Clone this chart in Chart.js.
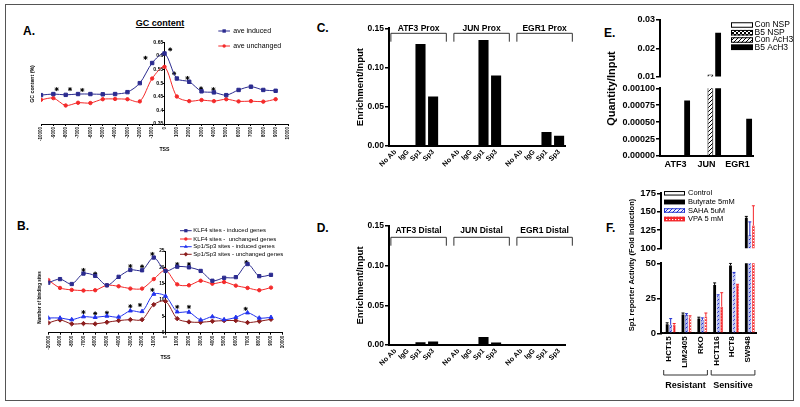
<!DOCTYPE html>
<html>
<head>
<meta charset="utf-8">
<script src="https://cdn.jsdelivr.net/npm/chart.js@4.4.1/dist/chart.umd.min.js"></script>
<style>
body { margin: 0; background: #fff; }
#wrap { position: relative; width: 800px; height: 407px; overflow: hidden; font-family: "Liberation Sans", Arial, sans-serif; }
canvas { position: absolute; }
.frame { position: absolute; left: 5px; top: 4px; width: 787px; height: 395px; border: 1.5px solid #555; pointer-events: none; }
.lbl { position: absolute; font-weight: bold; line-height: 1; white-space: nowrap; color: #000; }
</style>
</head>
<body>
<div id="wrap">
  <div class="lbl" style="left:23px;top:24.8px;font-size:12px">A.</div>
  <div class="lbl" style="left:17px;top:219.8px;font-size:12px">B.</div>
  <div class="lbl" style="left:316.7px;top:21.5px;font-size:12px">C.</div>
  <div class="lbl" style="left:316.7px;top:221.5px;font-size:12px">D.</div>
  <div class="lbl" style="left:604px;top:26.5px;font-size:12px">E.</div>
  <div class="lbl" style="left:606px;top:222.1px;font-size:12px">F.</div>
  <div class="lbl" style="left:160px;top:19.4px;font-size:9px;transform:translateX(-50%);text-decoration:underline">GC content</div>
  <div class="frame"></div>
</div>
<script>
// ---- data ----
const tss = [-10000, -9000, -8000, -7000, -6000, -5000, -4000, -3000, -2000, -1000, 0, 1000, 2000, 3000, 4000, 5000, 6000, 7000, 8000, 9000];
const gcInduced = [0.456, 0.460, 0.457, 0.460, 0.460, 0.459, 0.460, 0.467, 0.500, 0.574, 0.609, 0.517, 0.505, 0.470, 0.466, 0.456, 0.475, 0.487, 0.475, 0.472];
const gcUnchanged = [0.439, 0.445, 0.418, 0.428, 0.427, 0.441, 0.442, 0.441, 0.433, 0.517, 0.560, 0.451, 0.434, 0.438, 0.434, 0.441, 0.433, 0.434, 0.432, 0.441];
const gcStarX = [-8730, -7650, -6660, -1540, 460, 780, 1860, 2960, 3960];
const gcStarY = [0.478, 0.478, 0.475, 0.593, 0.624, 0.536, 0.519, 0.481, 0.478];

const klf4Induced = [15.3, 16.4, 14.9, 18.1, 17.4, 14.5, 17.1, 19.2, 19.1, 23.0, 18.9, 20.2, 20.0, 18.9, 15.9, 16.8, 17.0, 21.0, 17.3, 17.7];
const klf4Unchanged = [16.1, 13.7, 13.1, 12.9, 13.0, 14.5, 14.2, 13.5, 13.5, 16.4, 19.1, 14.8, 14.5, 15.9, 15.0, 15.5, 14.4, 13.7, 13.0, 13.8];
const spInduced = [4.5, 4.5, 4.0, 4.9, 4.7, 5.1, 4.8, 6.7, 6.5, 11.8, 11.2, 6.4, 6.3, 3.9, 4.9, 4.0, 4.7, 6.1, 4.5, 4.7];
const spUnchanged = [3.0, 3.9, 2.7, 2.8, 2.7, 3.2, 3.7, 4.0, 4.0, 8.6, 9.6, 4.3, 3.3, 3.2, 3.5, 3.7, 3.7, 3.1, 3.5, 4.1];
const siteStarX = [-7000, -6000, -3000, -2000, -1120, 1000, 2000, 6900, -7000, -6000, -5000, -3000, -2180, -1120, 1000, 2000, 6840];
const siteStarY = [19.2, 18.1, 20.4, 20.3, 24.1, 21.0, 21.0, 21.6, 6.3, 5.9, 6.1, 8.1, 8.5, 13.1, 7.9, 7.9, 7.3];

const chipLabels = ['No Ab', 'IgG', 'Sp1', 'Sp3'];
const proxATF3 = [0, 0, 0.130, 0.063];
const proxJUN = [0, 0, 0.135, 0.090];
const proxEGR1 = [0, 0, 0.018, 0.013];
const distATF3 = [0, 0, 0.0035, 0.0045];
const distJUN = [0, 0, 0.0100, 0.0030];
const distEGR1 = [0, 0, 0, 0];

const genes = ['ATF3', 'JUN', 'EGR1'];
const conNSP = [0, 0, 0];
const b5NSP = [0, 0, 0];
const conAcH3 = [0, 0.0107, 0];
const b5AcH3 = [0.00082, 0.0255, 0.00055];

const cellLines = ['HCT15', 'LIM2405', 'RKO', 'HCT116', 'HCT8', 'SW948'];
const control = [1, 1, 1, 1, 1, 1];
const butyrate = [6.5, 13.5, 10.5, 34.5, 48.5, 141.5];
const butyrateErr = [1, 1, 1, 1.5, 1.5, 2];
const saha = [6, 13, 9.5, 27, 43, 118];
const sahaErr = [4.5, 1, 1.5, 0.5, 0.5, 18];
const vpa = [6, 11.5, 12, 19, 34.5, 131];
const vpaErr = [1, 1, 2.5, 10, 0.5, 27];

// ---- helpers ----
Chart.defaults.font.family = '"Liberation Sans", Arial, sans-serif';
Chart.defaults.color = '#000';
const FAM = '"Liberation Sans", Arial, sans-serif';
const fnt = (s, b) => (b ? 'bold ' : '') + s + 'px ' + FAM;
const wrap = document.getElementById('wrap');

function mk(left, top, w, h) {
    const c = document.createElement('canvas');
    c.width = w; c.height = h;
    c.style.left = left + 'px'; c.style.top = top + 'px';
    c.style.width = w + 'px'; c.style.height = h + 'px';
    wrap.insertBefore(c, wrap.querySelector('.frame'));
    return c;
}

function pat(w, h, draw) {
    const c = document.createElement('canvas');
    c.width = w; c.height = h;
    const g = c.getContext('2d');
    draw(g);
    return g.createPattern(c, 'repeat');
}
function diag(g, n, color, lw) {
    g.strokeStyle = color; g.lineWidth = lw;
    g.beginPath();
    g.moveTo(-1, n + 1); g.lineTo(n + 1, -1);
    g.moveTo(-1, 1); g.lineTo(1, -1);
    g.moveTo(n - 1, n + 1); g.lineTo(n + 1, n - 1);
    g.stroke();
}
const checker = pat(4, 4, g => { g.fillStyle = '#fff'; g.fillRect(0, 0, 4, 4); g.fillStyle = '#000'; g.fillRect(0, 0, 2, 2); g.fillRect(2, 2, 2, 2); });
const hatch = pat(4, 4, g => { g.fillStyle = '#fff'; g.fillRect(0, 0, 4, 4); diag(g, 4, '#000', 1); });
const sahaFill = pat(4, 4, g => { g.fillStyle = '#b9c0ee'; g.fillRect(0, 0, 4, 4); diag(g, 4, '#1d2bd0', 1); });
const sahaKey = pat(4, 4, g => { g.fillStyle = '#fff'; g.fillRect(0, 0, 4, 4); diag(g, 4, '#1d2bd0', 1); });
const vpaFill = pat(3, 3, g => { g.fillStyle = '#f4262a'; g.fillRect(0, 0, 3, 3); g.fillStyle = '#fff'; g.fillRect(1, 1, 1.3, 1.3); });

function notes(ox, oy, items) {
    return {
        id: 'notes',
        afterDraw(chart) {
            const ctx = chart.ctx;
            items.forEach(t => {
                ctx.save();
                ctx.font = t.font;
                ctx.fillStyle = '#000';
                ctx.textAlign = t.align || 'center';
                ctx.textBaseline = 'middle';
                ctx.translate(t.x - ox, t.y - oy);
                if (t.rot) ctx.rotate(t.rot);
                ctx.fillText(t.text, 0, 0);
                ctx.restore();
            });
        }
    };
}

function mark(ctx, style, x, y, r, color) {
    ctx.fillStyle = color;
    ctx.beginPath();
    if (style === 'rect') {
        const s = r * Math.SQRT1_2;
        ctx.rect(x - s, y - s, 2 * s, 2 * s);
    } else if (style === 'triangle') {
        ctx.moveTo(x, y - r); ctx.lineTo(x + r * 0.87, y + r * 0.5); ctx.lineTo(x - r * 0.87, y + r * 0.5); ctx.closePath();
    } else if (style === 'rectRot') {
        ctx.moveTo(x, y - r); ctx.lineTo(x + r, y); ctx.lineTo(x, y + r); ctx.lineTo(x - r, y); ctx.closePath();
    } else {
        ctx.arc(x, y, r, 0, Math.PI * 2);
    }
    ctx.fill();
}

function lineKey(ox, oy, k) {
    return {
        id: 'lineKey',
        afterDraw(chart) {
            const ctx = chart.ctx;
            chart.data.datasets.forEach((ds, i) => {
                if (k.y[i] === undefined) return;
                const y = k.y[i] - oy;
                ctx.save();
                ctx.strokeStyle = ds.borderColor; ctx.lineWidth = 1;
                ctx.beginPath(); ctx.moveTo(k.x0 - ox, y); ctx.lineTo(k.x1 - ox, y); ctx.stroke();
                mark(ctx, ds.pointStyle, (k.x0 + k.x1) / 2 - ox, y, ds.pointRadius, ds.backgroundColor);
                ctx.fillStyle = '#000'; ctx.font = k.font; ctx.textAlign = 'left'; ctx.textBaseline = 'middle';
                ctx.fillText(ds.label, k.tx - ox, y);
                ctx.restore();
            });
        }
    };
}

function boxKey(ox, oy, k) {
    return {
        id: 'boxKey',
        afterDraw(chart) {
            const ctx = chart.ctx;
            chart.data.datasets.forEach((ds, i) => {
                const y = k.y[i] - oy;
                ctx.save();
                ctx.fillStyle = ds.keyFill || ds.backgroundColor;
                ctx.fillRect(k.x - ox, y - k.h / 2, k.w, k.h);
                ctx.strokeStyle = ds.keyLine || '#000'; ctx.lineWidth = 1;
                ctx.strokeRect(k.x - ox + 0.5, y - k.h / 2 + 0.5, k.w - 1, k.h - 1);
                ctx.fillStyle = '#000'; ctx.font = k.font; ctx.textAlign = 'left'; ctx.textBaseline = 'middle';
                ctx.fillText(ds.label, k.tx - ox, y);
                ctx.restore();
            });
        }
    };
}

function brackets(oy, groups, b) {
    return {
        id: 'brackets',
        afterDraw(chart) {
            const ctx = chart.ctx, sx = chart.scales.x;
            const step = sx.getPixelForValue(1) - sx.getPixelForValue(0);
            groups.forEach(g => {
                const l = sx.getPixelForValue(g.first) - b.lo * step;
                const r = sx.getPixelForValue(g.last) + b.hi * step;
                ctx.save();
                ctx.strokeStyle = '#333'; ctx.lineWidth = 1;
                ctx.beginPath();
                ctx.moveTo(l, b.ey - oy); ctx.lineTo(l, b.ly - oy); ctx.lineTo(r, b.ly - oy); ctx.lineTo(r, b.ey - oy);
                ctx.stroke();
                ctx.fillStyle = '#000'; ctx.font = b.font; ctx.textAlign = 'center'; ctx.textBaseline = 'middle';
                ctx.fillText(g.text, (l + r) / 2, b.ty - oy);
                ctx.restore();
            });
        }
    };
}

function errBars(errs) {
    return {
        id: 'errBars',
        afterDatasetsDraw(chart) {
            const ctx = chart.ctx, sy = chart.scales.y, a = chart.chartArea;
            ctx.save();
            ctx.beginPath(); ctx.rect(a.left, a.top - 0.5, a.right - a.left, a.bottom - a.top + 0.5); ctx.clip();
            errs.forEach(e => {
                const ds = chart.data.datasets[e.index];
                chart.getDatasetMeta(e.index).data.forEach((bar, j) => {
                    const top = sy.getPixelForValue(ds.data[j] + e.err[j]);
                    ctx.strokeStyle = e.color; ctx.lineWidth = 1;
                    ctx.beginPath();
                    ctx.moveTo(bar.x, bar.y); ctx.lineTo(bar.x, top);
                    ctx.moveTo(bar.x - 1.5, top); ctx.lineTo(bar.x + 1.5, top);
                    ctx.stroke();
                });
            });
            ctx.restore();
        }
    };
}

const base = {
    responsive: false,
    animation: false,
    events: [],
    plugins: { legend: { display: false }, tooltip: { enabled: false } }
};

function yAxis(min, max, step, fmt, size, width, title) {
    return {
        min: min, max: max, position: 'left',
        ticks: { stepSize: step, callback: fmt, font: { size: size, weight: 'bold' }, color: '#000', padding: 1 },
        grid: { drawOnChartArea: false, tickLength: 4, lineWidth: 1.5, color: '#000' },
        border: { color: '#000', width: 2 },
        title: title || { display: false },
        afterFit: s => { s.width = width; }
    };
}

const pts = (xs, ys) => xs.map((x, i) => ({ x: x, y: ys[i] }));
const navy = '#2b2b8f', red = '#f42a2a';

// ---- A: GC content ----
const cA = mk(20, 20, 280, 133);
new Chart(cA, {
    type: 'line',
    data: {
        datasets: [
            { label: 'ave induced', data: pts(tss, gcInduced), borderColor: navy, backgroundColor: navy, borderWidth: 1, pointStyle: 'rect', pointRadius: 2.4, tension: 0.3 },
            { label: 'ave unchanged', data: pts(tss, gcUnchanged), borderColor: red, backgroundColor: red, borderWidth: 1, pointStyle: 'circle', pointRadius: 1.7, tension: 0.3 },
            { type: 'scatter', label: '*', data: pts(gcStarX, gcStarY), showLine: false, pointStyle: 'star', pointRadius: 2, borderColor: '#000', borderWidth: 1 }
        ]
    },
    options: Object.assign({}, base, {
        layout: { padding: { left: 21, right: 12, top: 22.3, bottom: 0 } },
        scales: {
            x: {
                type: 'linear', min: -10000, max: 10000, position: 'bottom',
                ticks: { stepSize: 1000, autoSkip: false, minRotation: 90, maxRotation: 90, callback: v => String(v), font: { size: 4.5, weight: 'bold' }, color: '#000', padding: 1 },
                grid: { drawOnChartArea: false, tickLength: 2, color: '#000' },
                border: { color: '#000', width: 1 },
                title: { display: true, text: 'TSS', font: { size: 5.2, weight: 'bold' }, color: '#000', padding: { top: 0, bottom: 0.7 } },
                afterFit: s => { s.height = 29; }
            },
            y: {
                type: 'linear', min: 0.35, max: 0.65, position: { x: 0 },
                ticks: { stepSize: 0.05, callback: v => String(+v.toFixed(2)) + '\u2009', font: { size: 5.2, weight: 'bold' }, color: '#000', padding: 1 },
                grid: { drawOnChartArea: false, tickLength: 1.5, color: '#000' },
                border: { color: '#000', width: 1 }
            }
        }
    }),
    plugins: [
        notes(20, 20, [{ text: 'GC content (%)', x: 32.3, y: 84, font: fnt(5.2, true), rot: -Math.PI / 2 }]),
        lineKey(20, 20, { x0: 218.3, x1: 230, tx: 233.3, y: [31, 46], font: fnt(7, false) })
    ]
});

// ---- B: binding sites ----
const cB = mk(20, 225, 280, 137);
new Chart(cB, {
    type: 'line',
    data: {
        datasets: [
            { label: 'KLF4 sites - induced genes', data: pts(tss, klf4Induced), borderColor: navy, backgroundColor: navy, borderWidth: 1, pointStyle: 'rect', pointRadius: 2.3, tension: 0.3 },
            { label: 'KLF4 sites -  unchanged genes', data: pts(tss, klf4Unchanged), borderColor: red, backgroundColor: red, borderWidth: 1, pointStyle: 'circle', pointRadius: 1.7, tension: 0.3 },
            { label: 'Sp1/Sp3 sites - induced genes', data: pts(tss, spInduced), borderColor: '#2233ee', backgroundColor: '#2233ee', borderWidth: 1, pointStyle: 'triangle', pointRadius: 2.3, tension: 0.3 },
            { label: 'Sp1/Sp3 sites - unchanged genes', data: pts(tss, spUnchanged), borderColor: '#8b1c1c', backgroundColor: '#8b1c1c', borderWidth: 1, pointStyle: 'rectRot', pointRadius: 2.2, tension: 0.3 },
            { type: 'scatter', label: '*', data: pts(siteStarX, siteStarY), showLine: false, pointStyle: 'star', pointRadius: 2, borderColor: '#000', borderWidth: 1 }
        ]
    },
    options: Object.assign({}, base, {
        layout: { padding: { left: 28.3, right: 17.3, top: 26, bottom: 0 } },
        scales: {
            x: {
                type: 'linear', min: -10000, max: 10000, position: 'bottom',
                ticks: { stepSize: 1000, autoSkip: false, minRotation: 90, maxRotation: 90, callback: v => String(v), font: { size: 4.5, weight: 'bold' }, color: '#000', padding: 1 },
                grid: { drawOnChartArea: false, tickLength: 2, color: '#000' },
                border: { color: '#000', width: 1 },
                title: { display: true, text: 'TSS', font: { size: 5.2, weight: 'bold' }, color: '#000', padding: { top: 0, bottom: 1 } },
                afterFit: s => { s.height = 29.3; }
            },
            y: {
                type: 'linear', min: 0, max: 25, position: { x: 0 },
                ticks: { stepSize: 5, callback: v => String(v) + '\u2009', font: { size: 4.8, weight: 'bold' }, color: '#000', padding: 1 },
                grid: { drawOnChartArea: false, tickLength: 1.5, color: '#000' },
                border: { color: '#000', width: 1 }
            }
        }
    }),
    plugins: [
        notes(20, 225, [{ text: 'Number of binding sites', x: 39.5, y: 297.5, font: fnt(4.6, true), rot: -Math.PI / 2 }]),
        lineKey(20, 225, { x0: 180, x1: 191.7, tx: 193.3, y: [230.7, 239, 246.7, 254.3], font: fnt(6, false) })
    ]
});

// ---- C / D: ChIP ----
const chipCats = chipLabels.concat([''], chipLabels, [''], chipLabels);
const chipData = (a, b, c) => a.concat([null], b, [null], c);

function chipChart(canvas, top, padTop, xh, values, names, br) {
    return new Chart(canvas, {
        type: 'bar',
        data: {
            labels: chipCats,
            datasets: [{ label: 'Enrichment/Input', data: values, backgroundColor: '#000', borderWidth: 0, categoryPercentage: 1, barPercentage: 0.8 }]
        },
        options: Object.assign({}, base, {
            layout: { padding: { left: 0, right: 14.6, top: padTop, bottom: 0 } },
            scales: {
                x: {
                    ticks: { autoSkip: false, minRotation: 45, maxRotation: 45, font: { size: 7, weight: 'bold' }, color: '#000', padding: 2 },
                    grid: { display: false, drawTicks: false },
                    border: { color: '#000', width: 2 },
                    afterFit: s => { s.height = xh; }
                },
                y: yAxis(0, 0.15, 0.05, v => v.toFixed(2), 8.5, 39,
                    { display: true, text: 'Enrichment/Input', font: { size: 9.5, weight: 'bold' }, color: '#000', padding: { top: 4.3, bottom: 0 } })
            }
        }),
        plugins: [brackets(top, [
            { text: names[0], first: 0, last: 3 },
            { text: names[1], first: 5, last: 8 },
            { text: names[2], first: 10, last: 13 }
        ], br)]
    });
}

chipChart(mk(350, 10, 230, 165), 10, 18.3, 29, chipData(proxATF3, proxJUN, proxEGR1),
    ['ATF3 Prox', 'JUN Prox', 'EGR1 Prox'], { lo: 0.35, hi: 1.05, ty: 28.3, ly: 33.3, ey: 41.7, font: fnt(8.5, true) });
chipChart(mk(350, 208, 230, 165), 208, 18, 28, chipData(distATF3, distJUN, distEGR1),
    ['ATF3 Distal', 'JUN Distal', 'EGR1 Distal'], { lo: 0.35, hi: 1.05, ty: 231, ly: 237.3, ey: 245.7, font: fnt(8.5, true) });

// ---- E: histone acetylation (broken axis) ----
function eSets() {
    return [
        { label: 'Con NSP', data: conNSP, backgroundColor: '#fff', borderColor: '#000', borderWidth: 1, keyFill: '#fff' },
        { label: 'B5 NSP', data: b5NSP, backgroundColor: checker, borderColor: '#000', borderWidth: 1 },
        { label: 'Con AcH3', data: conAcH3, backgroundColor: hatch, borderColor: '#000', borderWidth: 1 },
        { label: 'B5 AcH3', data: b5AcH3, backgroundColor: '#000', borderWidth: 0 }
    ].map(d => Object.assign(d, { categoryPercentage: 1, barPercentage: 0.75, clip: 0 }));
}
const eX = (show, xh) => ({
    display: show,
    ticks: { font: { size: 9, weight: 'bold' }, color: '#000', padding: 3, minRotation: 0, maxRotation: 0 },
    grid: { display: false, drawTicks: false },
    border: { color: '#000', width: 2 },
    afterFit: s => { s.height = xh; }
});

new Chart(mk(600, 8, 196, 75), {
    type: 'bar',
    data: { labels: genes, datasets: eSets() },
    options: Object.assign({}, base, {
        layout: { padding: { left: 0, right: 43, top: 12, bottom: 5.3 } },
        scales: { x: eX(false, 0), y: yAxis(0.01, 0.03, 0.01, v => v.toFixed(2), 9, 60) }
    }),
    plugins: [boxKey(600, 8, { x: 731, w: 22, h: 5.5, tx: 754.5, y: [25, 32.7, 40, 47.3], font: fnt(8.5, false) })]
});

new Chart(mk(600, 40, 196, 136), {
    type: 'bar',
    data: { labels: genes, datasets: eSets() },
    options: Object.assign({}, base, {
        layout: { padding: { left: 0, right: 43, top: 48.3, bottom: 0 } },
        scales: { x: eX(true, 20), y: yAxis(0, 0.001, 0.00025, v => v.toFixed(5), 9, 60) }
    }),
    plugins: [notes(600, 40, [{ text: 'Quantity/Input', x: 611.7, y: 88.5, font: fnt(11, true), rot: -Math.PI / 2 }])]
});

// ---- F: Sp1 reporter activity (broken axis) ----
function fSets() {
    return [
        { label: 'Control', data: control, backgroundColor: '#fff', borderColor: '#000', borderWidth: 1 },
        { label: 'Butyrate 5mM', data: butyrate, backgroundColor: '#000', borderWidth: 0 },
        { label: 'SAHA 5uM', data: saha, backgroundColor: sahaFill, borderColor: '#2233cc', borderWidth: 0.6, keyFill: sahaKey, keyLine: '#2233cc' },
        { label: 'VPA 5 mM', data: vpa, backgroundColor: vpaFill, borderColor: '#f4262a', borderWidth: 0.6, keyLine: '#f4262a' }
    ].map(d => Object.assign(d, { categoryPercentage: 0.89, barPercentage: 0.8, clip: 0 }));
}
const fErr = errBars([
    { index: 1, err: butyrateErr, color: '#000' },
    { index: 2, err: sahaErr, color: '#1d2bd0' },
    { index: 3, err: vpaErr, color: '#f4262a' }
]);
const fX = (show, xh) => ({
    display: show,
    ticks: { autoSkip: false, minRotation: 90, maxRotation: 90, font: { size: 8, weight: 'bold' }, color: '#000', padding: 3 },
    grid: { display: false, drawTicks: false },
    border: { color: '#000', width: 2 },
    afterFit: s => { s.height = xh; }
});

new Chart(mk(620, 185, 176, 70), {
    type: 'bar',
    data: { labels: cellLines, datasets: fSets() },
    options: Object.assign({}, base, {
        layout: { padding: { left: 0, right: 40, top: 8.3, bottom: 2.3 } },
        scales: { x: fX(false, 0), y: yAxis(100, 175, 25, v => String(v), 9.5, 41) }
    }),
    plugins: [fErr, boxKey(620, 185, { x: 664, w: 21, h: 4.5, tx: 688, y: [193.3, 202, 210.5, 219], font: fnt(7.5, false) })]
});

new Chart(mk(620, 170, 176, 230), {
    type: 'bar',
    data: { labels: cellLines, datasets: fSets() },
    options: Object.assign({}, base, {
        layout: { padding: { left: 0, right: 40, top: 93.3, bottom: 0 } },
        scales: { x: fX(true, 66.7), y: yAxis(0, 50, 25, v => String(v), 9.5, 41) }
    }),
    plugins: [
        fErr,
        notes(620, 170, [{ text: 'Sp1 reporter Activity (Fold Induction)', x: 631.7, y: 265, font: fnt(7.5, true), rot: -Math.PI / 2 }]),
        brackets(170, [
            { text: 'Resistant', first: 0, last: 2 },
            { text: 'Sensitive', first: 3, last: 5 }
        ], { lo: 0.33, hi: 0.43, ty: 385.3, ly: 375, ey: 370, font: fnt(9, true) })
    ]
});
</script>
</body>
</html>
